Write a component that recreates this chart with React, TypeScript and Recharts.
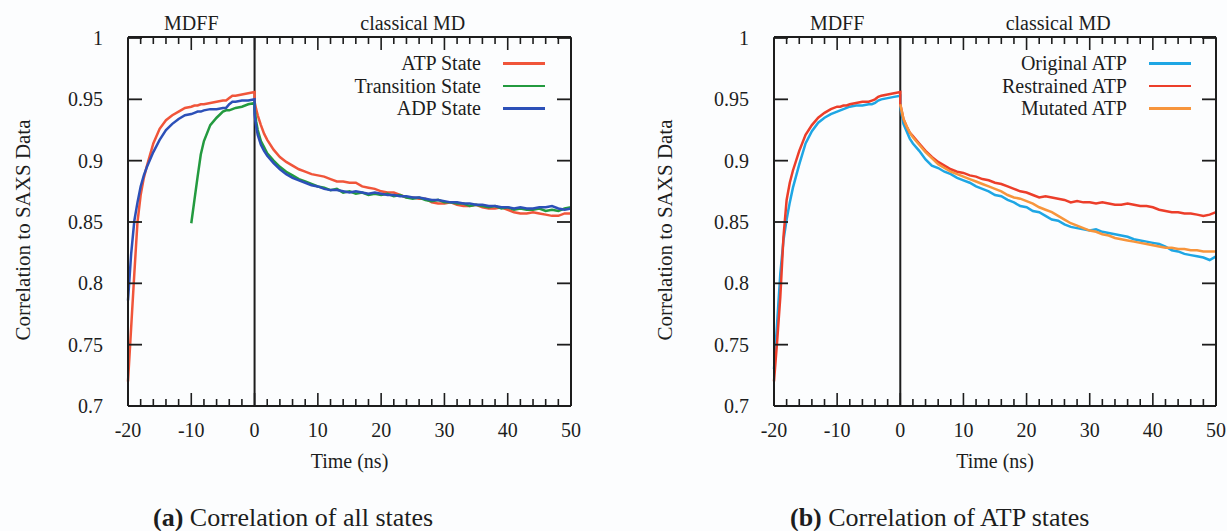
import * as React from 'react';
import { LineChart, Line, XAxis, YAxis, ReferenceLine, Legend } from 'recharts';

const SERIF = '"Liberation Serif", "Times New Roman", serif';
const INK = '#1d1d1d';

const X_TICKS = [
  -20, -18, -16, -14, -12, -10, -8, -6, -4, -2, 0, 2, 4, 6, 8, 10, 12, 14, 16, 18, 20, 22, 24, 26, 28, 30, 32,
  34, 36, 38, 40, 42, 44, 46, 48, 50,
];
const Y_TICKS = [0.7, 0.75, 0.8, 0.85, 0.9, 0.95, 1];
const REGION_TICKS = [-10, 25];
const REGION_NAMES = ['MDFF', 'classical MD'];

// MDFF phase (-20..0 ns) and classical MD phase (0..50 ns)
const MDFF_TIME = [
  -20, -19.5, -19, -18.5, -18, -17.5, -17, -16, -15, -14, -13, -12, -11, -10, -9.5, -9, -8.5, -8, -7, -6, -5,
  -4.5, -4, -3.5, -3, -2, -1, 0,
];
const MD_TIME = [
  0, 0.25, 0.5, 1, 1.5, 2, 3, 4, 5, 6, 7, 8, 9, 10, 11, 12, 13, 14, 15, 16, 17, 18, 19, 20, 21, 22, 23, 24, 25,
  26, 27, 28, 29, 30, 31, 32, 33, 34, 35, 36, 37, 38, 39, 40, 41, 42, 43, 44, 45, 46, 47, 48, 49, 50,
];

// (a) all states
const ATP_MDFF = [
  0.72, 0.764, 0.808, 0.85, 0.872, 0.886, 0.896, 0.914, 0.926, 0.933, 0.937, 0.94, 0.943, 0.944, 0.945, 0.945,
  0.946, 0.946, 0.947, 0.948, 0.949, 0.949, 0.951, 0.953, 0.953, 0.954, 0.955, 0.956,
];
const ATP_MD = [
  0.948, 0.942, 0.937, 0.929, 0.922, 0.917, 0.909, 0.903, 0.899, 0.896, 0.893, 0.891, 0.889, 0.888, 0.887, 0.885,
  0.883, 0.883, 0.882, 0.882, 0.879, 0.878, 0.877, 0.875, 0.874, 0.874, 0.872, 0.87, 0.87, 0.869, 0.869, 0.866,
  0.865, 0.865, 0.866, 0.864, 0.863, 0.863, 0.864, 0.862, 0.861, 0.861, 0.862, 0.86, 0.858, 0.857, 0.857, 0.858,
  0.857, 0.856, 0.855, 0.855, 0.857, 0.857,
];
const TRANSITION_MDFF = [
  null, null, null, null, null, null, null, null, null, null, null, null, null, 0.849, 0.868, 0.887, 0.905, 0.916,
  0.929, 0.935, 0.94, 0.941, 0.941, 0.942, 0.943, 0.944, 0.946, 0.947,
];
const TRANSITION_MD = [
  0.942, 0.932, 0.925, 0.916, 0.911, 0.906, 0.9, 0.895, 0.891, 0.888, 0.885, 0.883, 0.881, 0.879, 0.878, 0.876,
  0.877, 0.874, 0.875, 0.873, 0.874, 0.872, 0.873, 0.872, 0.873, 0.871, 0.872, 0.87, 0.869, 0.87, 0.868, 0.867,
  0.868, 0.866, 0.866, 0.865, 0.865, 0.863, 0.864, 0.863, 0.862, 0.863, 0.861, 0.862, 0.86, 0.861, 0.86, 0.86,
  0.861, 0.859, 0.86, 0.859, 0.861, 0.862,
];
const ADP_MDFF = [
  0.786, 0.824, 0.851, 0.866, 0.879, 0.888, 0.895, 0.907, 0.917, 0.925, 0.93, 0.934, 0.937, 0.938, 0.939, 0.94,
  0.94, 0.941, 0.942, 0.942, 0.943, 0.943, 0.946, 0.948, 0.948, 0.949, 0.949, 0.95,
];
const ADP_MD = [
  0.938, 0.928, 0.921, 0.913, 0.908, 0.904, 0.898, 0.893, 0.889, 0.886, 0.884, 0.882, 0.88, 0.879, 0.877, 0.876,
  0.876, 0.875, 0.874, 0.875, 0.874, 0.873, 0.874, 0.873, 0.872, 0.872, 0.871, 0.871, 0.87, 0.87, 0.869, 0.868,
  0.868, 0.867, 0.866, 0.866, 0.865, 0.865, 0.864, 0.864, 0.863, 0.863, 0.862, 0.862, 0.861, 0.862, 0.861, 0.861,
  0.862, 0.862, 0.863, 0.861, 0.86, 0.861,
];

// (b) ATP variants
const ORIGINAL_MDFF = [
  0.73, 0.768, 0.808, 0.835, 0.852, 0.866, 0.878, 0.897, 0.914, 0.924, 0.931, 0.935, 0.938, 0.94, 0.941, 0.942,
  0.943, 0.944, 0.945, 0.945, 0.946, 0.946, 0.947, 0.949, 0.95, 0.951, 0.952, 0.953,
];
const ORIGINAL_MD = [
  0.944, 0.937, 0.93, 0.924, 0.918, 0.914, 0.908, 0.901, 0.896, 0.894, 0.891, 0.889, 0.886, 0.884, 0.882, 0.879,
  0.877, 0.875, 0.872, 0.871, 0.868, 0.866, 0.863, 0.862, 0.859, 0.858, 0.855, 0.852, 0.851, 0.848, 0.846, 0.845,
  0.844, 0.843, 0.844, 0.842, 0.841, 0.84, 0.839, 0.838, 0.836, 0.835, 0.834, 0.833, 0.832, 0.83, 0.827, 0.826,
  0.824, 0.823, 0.822, 0.821, 0.819, 0.822,
];
const RESTRAINED_MDFF = [
  0.72, 0.753, 0.789, 0.838, 0.868, 0.882, 0.892, 0.908, 0.921, 0.929, 0.935, 0.939, 0.942, 0.944, 0.944, 0.945,
  0.945, 0.946, 0.947, 0.948, 0.948, 0.949, 0.95, 0.952, 0.953, 0.954, 0.955, 0.956,
];
const RESTRAINED_MD = [
  0.946, 0.94, 0.934, 0.928, 0.923, 0.92, 0.914, 0.908, 0.903, 0.899, 0.896, 0.893, 0.891, 0.89, 0.888, 0.887,
  0.885, 0.884, 0.882, 0.881, 0.879, 0.877, 0.875, 0.874, 0.872, 0.87, 0.871, 0.87, 0.869, 0.868, 0.866, 0.867,
  0.866, 0.866, 0.865, 0.866, 0.865, 0.864, 0.864, 0.865, 0.864, 0.863, 0.863, 0.862, 0.86, 0.859, 0.858, 0.858,
  0.857, 0.857, 0.856, 0.855, 0.856, 0.858,
];
const MUTATED_MDFF = [
  null, null, null, null, null, null, null, null, null, null, null, null, null, null, null, null, null, null,
  null, null, null, null, null, null, null, null, null, null,
];
const MUTATED_MD = [
  0.946, 0.94, 0.934, 0.928, 0.923, 0.919, 0.913, 0.907, 0.902, 0.897, 0.894, 0.891, 0.889, 0.887, 0.885, 0.883,
  0.881, 0.879, 0.877, 0.875, 0.872, 0.87, 0.869, 0.867, 0.865, 0.862, 0.86, 0.858, 0.855, 0.852, 0.849, 0.847,
  0.845, 0.843, 0.842, 0.84, 0.839, 0.837, 0.836, 0.835, 0.834, 0.833, 0.832, 0.831, 0.83, 0.829, 0.829, 0.828,
  0.828, 0.827, 0.827, 0.826, 0.826, 0.826,
];

interface Series {
  key: string;
  name: string;
  color: string;
  mdff: (number | null)[];
  md: number[];
}

const SERIES_A: Series[] = [
  { key: 'atp', name: 'ATP State', color: '#f0553a', mdff: ATP_MDFF, md: ATP_MD },
  { key: 'transition', name: 'Transition State', color: '#239a3f', mdff: TRANSITION_MDFF, md: TRANSITION_MD },
  { key: 'adp', name: 'ADP State', color: '#2c50b8', mdff: ADP_MDFF, md: ADP_MD },
];

const SERIES_B: Series[] = [
  { key: 'original', name: 'Original ATP', color: '#1ea6e4', mdff: ORIGINAL_MDFF, md: ORIGINAL_MD },
  { key: 'restrained', name: 'Restrained ATP', color: '#ec3e2a', mdff: RESTRAINED_MDFF, md: RESTRAINED_MD },
  { key: 'mutated', name: 'Mutated ATP', color: '#f7953c', mdff: MUTATED_MDFF, md: MUTATED_MD },
];

function buildRows(series: Series[]) {
  const rows: Record<string, number | null>[] = [];
  MDFF_TIME.forEach((t, i) => {
    const row: Record<string, number | null> = { t };
    series.forEach((s) => (row[s.key] = s.mdff[i]));
    rows.push(row);
  });
  MD_TIME.forEach((t, i) => {
    const row: Record<string, number | null> = { t };
    series.forEach((s) => (row[s.key] = s.md[i]));
    rows.push(row);
  });
  return rows;
}

const textProps = { fontFamily: SERIF, fontSize: 20, fill: INK };

// gnuplot style ticks: drawn inward from the frame
function BottomTick({ x, y, payload }: any) {
  const major = payload.value % 10 === 0;
  return (
    <g>
      <line x1={x} y1={y} x2={x} y2={y - (major ? 13 : 7)} stroke={INK} strokeWidth={1.6} />
      {major && (
        <text x={x} y={y + 31} textAnchor="middle" {...textProps}>
          {String(payload.value)}
        </text>
      )}
    </g>
  );
}

function TopTick({ x, y, payload }: any) {
  const major = payload.value % 10 === 0;
  return <line x1={x} y1={y} x2={x} y2={y + (major ? 13 : 7)} stroke={INK} strokeWidth={1.6} />;
}

function RegionTick({ x, y, payload }: any) {
  const idx = REGION_TICKS.indexOf(payload.value);
  return (
    <text x={x} y={y - 8} textAnchor="middle" {...textProps}>
      {REGION_NAMES[idx]}
    </text>
  );
}

function LeftTick({ x, y, payload }: any) {
  return (
    <g>
      <line x1={x} y1={y} x2={x + 14} y2={y} stroke={INK} strokeWidth={1.8} />
      <text x={x - 25} y={y} textAnchor="end" dominantBaseline="central" {...textProps}>
        {String(payload.value)}
      </text>
    </g>
  );
}

function RightTick({ x, y }: any) {
  return <line x1={x} y1={y} x2={x - 14} y2={y} stroke={INK} strokeWidth={1.8} />;
}

function makeLegend(series: Series[]) {
  return function LegendBox({ payload }: any) {
    const items = series.map((s) => (payload || []).find((p: any) => p.value === s.name)).filter(Boolean);
    return (
      <div style={{ fontFamily: SERIF, fontSize: 20, color: INK }}>
        {items.map((p: any) => (
          <div
            key={p.value}
            style={{ display: 'flex', justifyContent: 'flex-end', alignItems: 'center', height: 22.5 }}
          >
            <span style={{ lineHeight: '20px' }}>{p.value}</span>
            <span
              style={{ display: 'inline-block', width: 42, height: 2.5, background: p.color, marginLeft: 22 }}
            />
          </div>
        ))}
      </div>
    );
  };
}

interface PanelProps {
  left: number;
  width: number;
  marginRight: number;
  series: Series[];
  yLabelGap: number;
}

function Panel({ left, width, marginRight, series, yLabelGap }: PanelProps) {
  const rows = buildRows(series);
  const axisLine = { stroke: INK, strokeWidth: 2 };
  const LegendBox = makeLegend(series);

  // axes are 1px thick bands so the plot box is set by the margins
  return (
    <div style={{ position: 'absolute', left, top: 0 }}>
      <LineChart
        width={width}
        height={531}
        data={rows}
        margin={{ top: 36, left: 127, right: marginRight - 1, bottom: 124 }}
      >
        <XAxis
          dataKey="t"
          type="number"
          domain={[-20, 50]}
          ticks={X_TICKS}
          interval={0}
          height={1}
          tickSize={0}
          tickMargin={0}
          tickLine={false}
          axisLine={axisLine}
          tick={(p: any) => <BottomTick {...p} />}
          label={(p: any) => {
            const vb = p.viewBox;
            return (
              <text x={vb.x + vb.width / 2} y={vb.y + 62} textAnchor="middle" {...textProps}>
                Time (ns)
              </text>
            );
          }}
        />
        <XAxis
          xAxisId="top"
          orientation="top"
          dataKey="t"
          type="number"
          domain={[-20, 50]}
          allowDataOverflow
          ticks={X_TICKS}
          interval={0}
          height={1}
          tickSize={0}
          tickMargin={0}
          tickLine={false}
          axisLine={axisLine}
          tick={(p: any) => <TopTick {...p} />}
        />
        <XAxis
          xAxisId="region"
          orientation="top"
          dataKey="t"
          type="number"
          domain={[-20, 50]}
          allowDataOverflow
          ticks={REGION_TICKS}
          interval={0}
          height={1}
          tickSize={0}
          tickMargin={0}
          tickLine={false}
          axisLine={false}
          tick={(p: any) => <RegionTick {...p} />}
        />
        <YAxis
          type="number"
          domain={[0.7, 1]}
          ticks={Y_TICKS}
          interval={0}
          width={1}
          tickSize={0}
          tickMargin={0}
          tickLine={false}
          axisLine={axisLine}
          tick={(p: any) => <LeftTick {...p} />}
          label={(p: any) => {
            const vb = p.viewBox;
            const cx = vb.x - yLabelGap;
            const cy = vb.y + vb.height / 2 + 8;
            return (
              <text
                x={cx}
                y={cy}
                transform={`rotate(-90 ${cx} ${cy})`}
                textAnchor="middle"
                dominantBaseline="central"
                fontFamily={SERIF}
                fontSize={21}
                fill={INK}
              >
                Correlation to SAXS Data
              </text>
            );
          }}
        />
        <YAxis
          yAxisId="right"
          orientation="right"
          type="number"
          domain={[0.7, 1]}
          allowDataOverflow
          ticks={Y_TICKS}
          interval={0}
          width={1}
          tickSize={0}
          tickMargin={0}
          tickLine={false}
          axisLine={axisLine}
          tick={(p: any) => <RightTick {...p} />}
        />
        <ReferenceLine x={0} stroke={INK} strokeWidth={2} />
        {series.map((s) => (
          <Line
            key={s.key}
            type="linear"
            dataKey={s.key}
            name={s.name}
            stroke={s.color}
            strokeWidth={2.5}
            dot={false}
            activeDot={false}
            connectNulls={false}
            isAnimationActive={false}
          />
        ))}
        <Legend
          layout="vertical"
          align="center"
          verticalAlign="middle"
          content={<LegendBox />}
          wrapperStyle={{ left: 225, top: 52, width: 320, height: 70 }}
        />
      </LineChart>
    </div>
  );
}

export default function App() {
  const caption: React.CSSProperties = {
    position: 'absolute',
    top: 505,
    fontFamily: SERIF,
    fontSize: 26,
    lineHeight: '26px',
    color: INK,
    whiteSpace: 'nowrap',
  };
  return (
    <div
      style={{
        position: 'absolute',
        left: 0,
        top: 0,
        width: 1227,
        height: 531,
        overflow: 'hidden',
        background: '#fcfdfe',
      }}
    >
      <Panel left={0} width={600} marginRight={29} series={SERIES_A} yLabelGap={104} />
      <Panel left={646} width={581} marginRight={11} series={SERIES_B} yLabelGap={108} />
      <div style={{ ...caption, left: 153 }}>
        <b>(a)</b> Correlation of all states
      </div>
      <div style={{ ...caption, left: 790 }}>
        <b>(b)</b> Correlation of ATP states
      </div>
    </div>
  );
}
